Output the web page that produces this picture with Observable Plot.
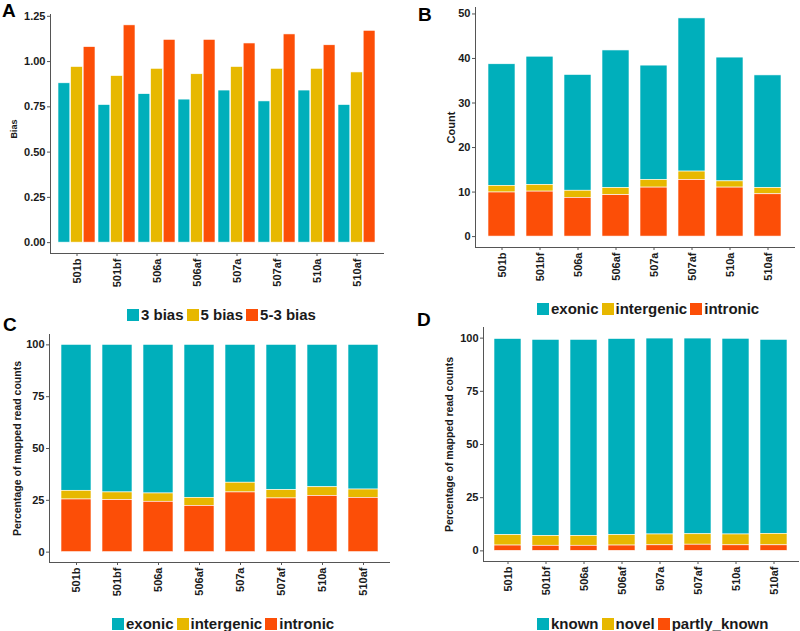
<!DOCTYPE html>
<html><head><meta charset="utf-8">
<script src="https://cdn.jsdelivr.net/npm/d3@7"></script>
<script src="https://cdn.jsdelivr.net/npm/@observablehq/plot@0.6"></script>
<style>
body{margin:0;background:#fff;}
#root{position:relative;width:800px;height:631px;overflow:hidden;font-family:"Liberation Sans",Arial,sans-serif;background:#fff;}
.pn{position:absolute;}
.letter{position:absolute;font-family:"Liberation Sans",Arial,sans-serif;font-weight:700;font-size:19px;line-height:21px;color:#000;}
.legend{position:absolute;display:flex;align-items:center;font-weight:bold;font-size:15px;color:#1a1a1a;white-space:nowrap;line-height:18px;z-index:2;}
.legend .key{width:12px;height:12px;margin-right:2px;}
.legend .item{display:flex;align-items:center;margin-right:3px;}
</style></head><body><div id="root"></div>
<script>
// ---- data ----
const samples = ["501b","501bf","506a","506af","507a","507af","510a","510af"];

const biasSeries = ["3 bias","5 bias","5-3 bias"];
const bias3  = [0.88, 0.76, 0.82, 0.79, 0.84, 0.78, 0.84, 0.76];
const bias5  = [0.97, 0.92, 0.96, 0.93, 0.97, 0.96, 0.96, 0.94];
const bias53 = [1.08, 1.20, 1.12, 1.12, 1.10, 1.15, 1.09, 1.17];

const regionTypes = ["exonic","intergenic","intronic"];
const countExonic     = [27.3, 28.8, 26.0, 30.9, 25.7, 34.4, 27.8, 25.3];
const countIntergenic = [1.5, 1.5, 1.6, 1.6, 1.7, 1.9, 1.4, 1.4];
const countIntronic   = [9.9, 10.1, 8.7, 9.3, 11.0, 12.7, 11.0, 9.5];

const pctExonic     = [70.4, 71.2, 71.7, 73.8, 66.5, 70.1, 68.7, 69.8];
const pctIntergenic = [4.2, 3.7, 4.0, 3.9, 4.7, 4.0, 4.2, 4.0];
const pctIntronic   = [25.4, 25.1, 24.3, 22.3, 28.8, 25.9, 27.1, 26.2];

const geneTypes = ["known","novel","partly_known"];
const pctKnown       = [92.2, 92.2, 92.2, 92.2, 92.1, 92.0, 92.0, 91.2];
const pctNovel       = [4.9, 4.6, 4.6, 4.9, 5.1, 4.9, 5.1, 5.4];
const pctPartlyKnown = [2.5, 2.4, 2.4, 2.5, 2.6, 2.9, 2.6, 2.6];

const palette = ["#00AFBB","#E7B800","#FC4E07"];

const biasTicks = [0, 0.25, 0.5, 0.75, 1, 1.25];
const countTicks = [0, 10, 20, 30, 40, 50];
const pctTicks = [0, 25, 50, 75, 100];

// ---- helpers ----
function long(names, arrays){
  const rows = [];
  names.forEach((n, j) => samples.forEach((s, i) => rows.push({sample: s, type: n, value: arrays[j][i]})));
  return rows;
}
const biasRows = long(biasSeries, [bias3, bias5, bias53]);
const countRows = long(regionTypes, [countExonic, countIntergenic, countIntronic]);
const pctRows = long(regionTypes, [pctExonic, pctIntergenic, pctIntronic]);
const geneRows = long(geneTypes, [pctKnown, pctNovel, pctPartlyKnown]);

const AX = "#555";
const FONT = {fontFamily: "'Liberation Sans', Arial, sans-serif", fontSize: "11px", fontWeight: "bold", color: "#1a1a1a", background: "transparent", overflow: "visible"};

function axes(o){
  return [
    Plot.frame({anchor: "left", stroke: AX}),
    Plot.frame({anchor: "bottom", stroke: AX}),
    Plot.axisY({ticks: o.ticks, tickFormat: o.fmt, tickSize: 3, tickPadding: 2, stroke: AX, label: null}),
    Plot.axisX({tickRotate: -90, tickSize: 3, tickPadding: 2, stroke: AX, label: null}),
    Plot.text([o.label], {frameAnchor: "left", textAnchor: "middle", lineAnchor: "middle", rotate: -90, dx: o.dx, dy: o.dy || 0, fontSize: o.labelSize, fontWeight: "bold"})
  ];
}

function place(el, left, top){
  el.classList.add("pn");
  el.style.left = left + "px";
  el.style.top = top + "px";
  document.getElementById("root").appendChild(el);
}

function legend(names, left, top){
  const d = document.createElement("div");
  d.className = "legend";
  d.style.left = left + "px"; d.style.top = top + "px";
  names.forEach((n, i) => {
    const it = document.createElement("div"); it.className = "item";
    const k = document.createElement("div"); k.className = "key"; k.style.background = palette[i];
    const t = document.createElement("span"); t.textContent = n;
    it.appendChild(k); it.appendChild(t); d.appendChild(it);
  });
  document.getElementById("root").appendChild(d);
}

function letter(t, left, top){
  const d = document.createElement("div");
  d.className = "letter"; d.textContent = t;
  d.style.left = left + "px"; d.style.top = top + "px";
  document.getElementById("root").appendChild(d);
}

// ---- Panel A: grouped bars ----
{
  const W = 400, H = 290, mL = 50, mR = 17, mT = 14, mB = 37;
  const pI = 0.07, pO = 0.135;
  const bw = d3.scaleBand().domain(samples).range([mL, W - mR]).paddingInner(pI).paddingOuter(pO).bandwidth();
  const p = Plot.plot({
    width: W, height: H, marginLeft: mL, marginRight: mR, marginTop: mT, marginBottom: mB,
    style: FONT,
    x: {domain: samples, paddingInner: pI, paddingOuter: pO},
    y: {domain: [-0.06, 1.26]},
    color: {domain: biasSeries, range: palette},
    marks: [
      ...biasSeries.map((s, i) => Plot.barY(biasRows.filter(d => d.type === s), {
        x: "sample", y: "value", fill: "type",
        insetLeft: i * bw / 3, insetRight: (2 - i) * bw / 3,
        stroke: "white", strokeWidth: 0.6
      })),
      ...axes({ticks: biasTicks, fmt: d3.format(".2f"), label: "Bias", dx: -36, dy: -5, labelSize: 9})
    ]
  });
  place(p, 0, 0);
}

// ---- Panel B: stacked counts ----
{
  const W = 400, H = 290;
  const p = Plot.plot({
    width: W, height: H, marginLeft: 75, marginRight: 6, marginTop: 7, marginBottom: 43,
    style: FONT,
    x: {domain: samples, paddingInner: 0.28, paddingOuter: 0.24},
    y: {domain: [-2.45, 51.45]},
    color: {domain: regionTypes, range: palette},
    marks: [
      Plot.barY(countRows, {x: "sample", y: "value", fill: "type", order: ["intronic","intergenic","exonic"], stroke: "white", strokeWidth: 0.6}),
      ...axes({ticks: countTicks, fmt: d3.format("d"), label: "Count", dx: -24, labelSize: 11})
    ]
  });
  place(p, 400, 0);
}

// ---- Panel C: stacked percentages ----
{
  const W = 400, H = 305;
  const p = Plot.plot({
    width: W, height: H, marginLeft: 49, marginRight: 11, marginTop: 34, marginBottom: 43,
    style: FONT,
    x: {domain: samples, paddingInner: 0.28, paddingOuter: 0.24},
    y: {domain: [-5, 105]},
    color: {domain: regionTypes, range: palette},
    marks: [
      Plot.barY(pctRows, {x: "sample", y: "value", fill: "type", order: ["intronic","intergenic","exonic"], stroke: "white", strokeWidth: 0.6}),
      ...axes({ticks: pctTicks, fmt: d3.format("d"), label: "Percentage of mapped read counts", dx: -32, labelSize: 10.5})
    ]
  });
  place(p, 0, 300);
}

// ---- Panel D: stacked gene-type percentages ----
{
  const W = 400, H = 305;
  const p = Plot.plot({
    width: W, height: H, marginLeft: 83, marginRight: 2, marginTop: 27, marginBottom: 44,
    style: FONT,
    x: {domain: samples, paddingInner: 0.28, paddingOuter: 0.24},
    y: {domain: [-5, 105]},
    color: {domain: geneTypes, range: palette},
    marks: [
      Plot.barY(geneRows, {x: "sample", y: "value", fill: "type", order: ["partly_known","novel","known"], stroke: "white", strokeWidth: 0.6}),
      ...axes({ticks: pctTicks, fmt: d3.format("d"), label: "Percentage of mapped read counts", dx: -34, labelSize: 10.5})
    ]
  });
  place(p, 400, 300);
}

// ---- legends & panel letters ----
legend(biasSeries, 127, 306);
legend(regionTypes, 537, 300);
legend(regionTypes, 112, 615);
legend(geneTypes, 537, 615);

letter("A", 2, 0);
letter("B", 418, 4);
letter("C", 3, 314);
letter("D", 417, 309);
</script></body></html>
